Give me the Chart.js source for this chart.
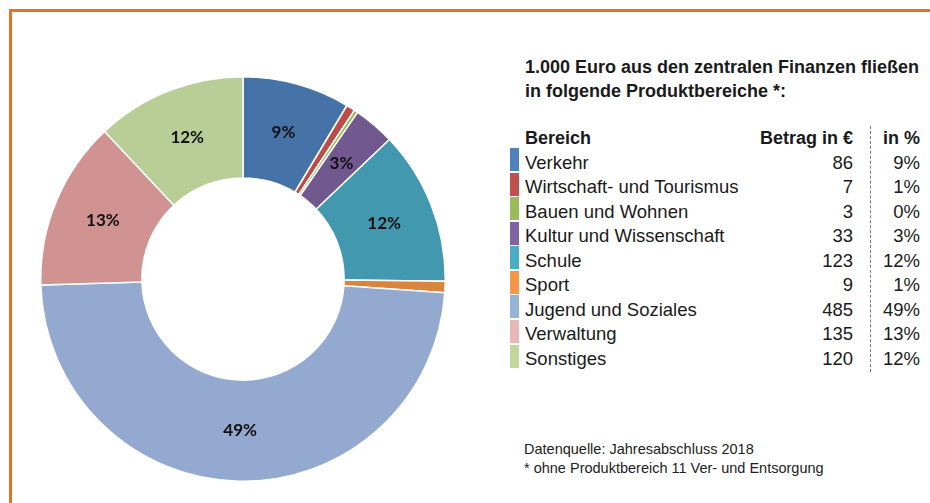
<!DOCTYPE html>
<html>
<head>
<meta charset="utf-8">
<script src="https://cdn.jsdelivr.net/npm/chart.js@4"></script>
<style>
  html, body { margin: 0; padding: 0; background: #fff; overflow: hidden; }
  body { width: 930px; height: 503px; position: relative; font-family: "Liberation Sans", Arial, sans-serif; color: #1a1a1a; }
  #frame { position: absolute; left: 9px; top: 9px; width: 1000px; height: 600px; border: 3px solid #E8731E; box-sizing: border-box; }
  #chartBox { position: absolute; left: 40px; top: 76px; width: 406px; height: 406px; }
  .t { position: absolute; white-space: nowrap; font-size: 18.5px; line-height: 24px; }
  .b { font-weight: bold; font-size: 18px; }
  .r { text-align: right; }
  .sw { position: absolute; width: 9px; }
  .foot { position: absolute; white-space: nowrap; font-size: 14.5px; line-height: 19px; color: #222; }
  #dash { position: absolute; left: 870px; top: 126px; height: 246px; border-left: 1px dashed #777; }
</style>
</head>
<body>
<div id="frame"></div>
<div id="chartBox"><canvas id="donut" width="406" height="406"></canvas></div>
<div id="legend"></div>
<div id="dash"></div>

<script>
// Data
const categories = ['Verkehr', 'Wirtschaft- und Tourismus', 'Bauen und Wohnen', 'Kultur und Wissenschaft',
    'Schule', 'Sport', 'Jugend und Soziales', 'Verwaltung', 'Sonstiges'];
const amounts = [86, 7, 3, 33, 123, 9, 485, 135, 120];
const percentLabels = ['9%', '1%', '0%', '3%', '12%', '1%', '49%', '13%', '12%'];
const sliceColors = ['#4572A7', '#BE4B48', '#98B954', '#71588F', '#4198AF', '#DB843D', '#93A9CF', '#D19392', '#B9CD96'];
const swatchColors = ['#4F81BD', '#C0504D', '#9BBB59', '#8064A2', '#4BACC6', '#F79646', '#95B3D7', '#E6B9B8', '#C3D69B'];
const titleLines = ['1.000 Euro aus den zentralen Finanzen fließen', 'in folgende Produktbereiche *:'];
const headers = ['Bereich', 'Betrag in €', 'in %'];
const footnotes = ['Datenquelle: Jahresabschluss 2018', '* ohne Produktbereich 11 Ver- und Entsorgung'];

// Build the text table on the right
const legend = document.getElementById('legend');
function addText(txt, cls, left, top, width) {
    const el = document.createElement('div');
    el.className = cls;
    el.textContent = txt;
    el.style.top = top + 'px';
    if (width) {
        el.style.left = (left - width) + 'px';
        el.style.width = width + 'px';
    } else {
        el.style.left = left + 'px';
    }
    legend.appendChild(el);
}

titleLines.forEach((line, i) => addText(line, 't b', 525, 54.8 + i * 24));

const headerTop = 125.8;
addText(headers[0], 't b', 525, headerTop);
addText(headers[1], 't b r', 853, headerTop, 160);
addText(headers[2], 't b r', 920, headerTop, 60);

const rowStep = 24.55;
categories.forEach((cat, i) => {
    const top = 150.6 + i * rowStep;
    const sw = document.createElement('div');
    sw.className = 'sw';
    sw.style.left = '510px';
    sw.style.top = (top - 2.5) + 'px';
    sw.style.height = '23px';
    sw.style.background = swatchColors[i];
    legend.appendChild(sw);
    addText(cat, 't', 525, top);
    addText(String(amounts[i]), 't r', 853, top, 80);
    addText(percentLabels[i], 't r', 920, top, 50);
});

footnotes.forEach((line, i) => {
    const el = document.createElement('div');
    el.className = 'foot';
    el.textContent = line;
    el.style.left = '524px';
    el.style.top = (440.3 + i * 19) + 'px';
    legend.appendChild(el);
});

// Percent labels inside the ring (small slices left unlabeled)
const sliceLabels = {
    id: 'sliceLabels',
    afterDatasetsDraw(chart) {
        const ctx = chart.ctx;
        const meta = chart.getDatasetMeta(0);
        ctx.save();
        ctx.font = 'bold 17px Lato, "Open Sans", sans-serif';
        ctx.fillStyle = '#111';
        ctx.textAlign = 'center';
        ctx.textBaseline = 'middle';
        meta.data.forEach((arc, i) => {
            if (amounts[i] < 20) return;
            const pos = arc.tooltipPosition();
            ctx.fillText(percentLabels[i], pos.x, pos.y);
        });
        ctx.restore();
    }
};

const ctx = document.getElementById('donut').getContext('2d');
new Chart(ctx, {
    type: 'doughnut',
    data: {
        labels: categories,
        datasets: [{
            data: amounts,
            backgroundColor: sliceColors,
            borderColor: '#ffffff',
            borderWidth: 1.5
        }]
    },
    options: {
        responsive: false,
        animation: false,
        cutout: '50%',
        layout: { padding: 0 },
        plugins: {
            legend: { display: false },
            tooltip: { enabled: false }
        }
    },
    plugins: [sliceLabels]
});
</script>
</body>
</html>
